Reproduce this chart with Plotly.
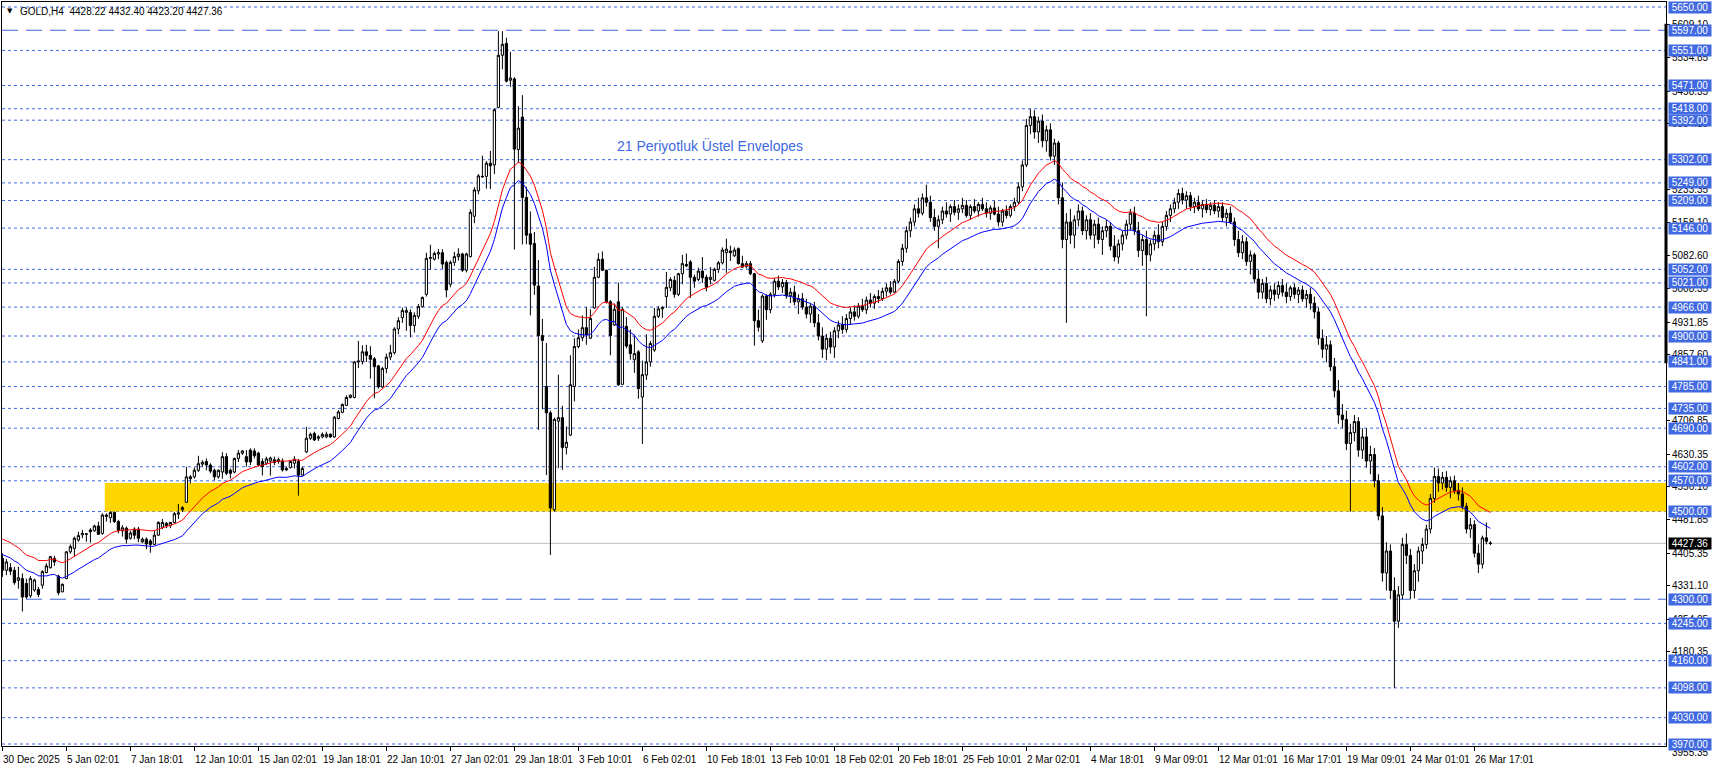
import plotly.graph_objects as go

# ---------------- data ----------------
open_ = [
    4393, 4366, 4372, 4366, 4343, 4347, 4336, 4308, 4321, 4322,
    4332, 4361, 4372, 4393, 4353, 4317, 4347, 4408, 4416, 4435,
    4447, 4448, 4458, 4456, 4467, 4450, 4492, 4486, 4498, 4477,
    4456, 4462, 4439, 4460, 4460, 4431, 4437, 4433, 4425, 4446,
    4464, 4473, 4468, 4475, 4494, 4504, 4521, 4579, 4579, 4594,
    4608, 4614, 4606, 4594, 4579, 4590, 4625, 4594, 4590, 4621,
    4633, 4625, 4640, 4638, 4633, 4614, 4610, 4615, 4618, 4618,
    4615, 4598, 4600, 4610, 4614, 4583, 4636, 4667, 4678, 4667,
    4670, 4670, 4676, 4670, 4712, 4726, 4742, 4760, 4760, 4841,
    4842, 4864, 4856, 4848, 4832, 4784, 4826, 4852, 4862, 4916,
    4942, 4954, 4954, 4924, 4945, 4967, 4995, 5077, 5075, 5087,
    5090, 5068, 5018, 5068, 5081, 5087, 5050, 5081, 5173, 5231,
    5264, 5264, 5294, 5290, 5421, 5540, 5567, 5483, 5486, 5325,
    5399, 5216, 5133, 5111, 5014, 4901, 4785, 4725, 4504, 4706,
    4714, 4646, 4674, 4785, 4876, 4896, 4919, 4895, 4964, 5034,
    5075, 5050, 4978, 4925, 4978, 4790, 4922, 4880, 4846, 4864,
    4761, 4811, 4841, 4868, 4945, 4962, 4990, 5010, 5027, 4995,
    5042, 5063, 5069, 5034, 5029, 5048, 5034, 5029, 5027, 5052,
    5067, 5090, 5094, 5083, 5099, 5065, 5059, 5065, 5042, 4935,
    4889, 4991, 4960, 4995, 5025, 5012, 5022, 4992, 5000, 4978,
    4985, 4966, 4950, 4968, 4930, 4900, 4870, 4895, 4875, 4912,
    4925, 4915, 4940, 4955, 4945, 4968, 4960, 4982, 4975, 4990,
    4985, 5002, 5010, 5000, 5025, 5070, 5100, 5140, 5160, 5190,
    5180, 5215, 5205, 5170, 5150, 5165, 5185, 5178, 5195, 5182,
    5190, 5198, 5175, 5195, 5185, 5200, 5190, 5180, 5192, 5178,
    5160, 5185, 5175, 5195, 5205, 5240, 5290, 5380, 5400, 5365,
    5390, 5345, 5370, 5310, 5340, 5215, 5120, 5160, 5130, 5165,
    5185, 5140, 5165, 5130, 5155, 5120, 5140, 5150, 5105, 5080,
    5110, 5130, 5155, 5180, 5140, 5095, 5120, 5085, 5110, 5130,
    5115, 5150, 5175, 5190, 5205, 5225, 5210, 5220, 5195, 5205,
    5190, 5200, 5188, 5198, 5185, 5195, 5170, 5180, 5160, 5120,
    5090, 5115, 5070, 5085, 5030, 5000, 5020, 4985, 5005, 4995,
    5015, 5000, 4990, 5010, 4995, 5005, 4985, 4995, 4975, 4955,
    4895, 4870, 4880, 4830, 4775, 4720, 4710, 4655, 4680, 4705,
    4640, 4670, 4615, 4630, 4570, 4490, 4360, 4410, 4320, 4250,
    4310, 4425, 4400, 4320, 4365, 4410, 4425, 4460, 4530, 4580,
    4565, 4578, 4555, 4570, 4548, 4540, 4512, 4460, 4470, 4405,
    4380, 4440, 4428.22,
]
high = [
    4405, 4392, 4382, 4374, 4374, 4359, 4347, 4353, 4347, 4328,
    4366, 4382, 4399, 4399, 4356, 4336, 4410, 4425, 4443, 4454,
    4458, 4450, 4462, 4470, 4477, 4496, 4496, 4500, 4500, 4481,
    4469, 4466, 4456, 4464, 4465, 4441, 4441, 4437, 4456, 4478,
    4483, 4476, 4476, 4499, 4517, 4512, 4602, 4583, 4600, 4627,
    4617, 4621, 4610, 4598, 4596, 4635, 4633, 4598, 4623, 4640,
    4640, 4640, 4644, 4644, 4636, 4621, 4625, 4625, 4625, 4623,
    4621, 4602, 4617, 4626, 4620, 4602, 4693, 4680, 4682, 4674,
    4680, 4682, 4678, 4718, 4731, 4746, 4765, 4767, 4843, 4889,
    4879, 4880, 4877, 4852, 4834, 4830, 4860, 4880, 4920, 4943,
    4965, 4965, 4961, 4954, 4973, 4990, 5090, 5108, 5093, 5098,
    5098, 5072, 5072, 5092, 5100, 5090, 5090, 5189, 5239, 5269,
    5311, 5299, 5322, 5419, 5595, 5595, 5580, 5548, 5490, 5424,
    5449, 5240, 5184, 5137, 5073, 4939, 4884, 4730, 4714, 4812,
    4741, 4694, 4856, 4895, 4915, 4947, 4966, 4961, 5058, 5089,
    5093, 5051, 4982, 4974, 5022, 4966, 4943, 4915, 4903, 4868,
    4844, 4904, 4889, 4964, 4968, 4968, 5046, 5034, 5037, 5044,
    5085, 5088, 5073, 5040, 5056, 5080, 5040, 5057, 5056, 5071,
    5102, 5122, 5106, 5102, 5102, 5083, 5071, 5071, 5044, 4960,
    4995, 4995, 5000, 5032, 5038, 5030, 5028, 5010, 5015, 4995,
    4998, 4985, 4975, 4978, 4950, 4920, 4905, 4910, 4920, 4935,
    4945, 4950, 4965, 4970, 4975, 4985, 4990, 4998, 4995, 5005,
    5010, 5020, 5025, 5030, 5075, 5110, 5150, 5170, 5200, 5215,
    5225, 5245, 5220, 5190, 5175, 5195, 5205, 5200, 5210, 5200,
    5215, 5210, 5200, 5212, 5205, 5215, 5205, 5198, 5208, 5195,
    5190, 5198, 5200, 5215, 5250, 5300, 5395, 5418, 5415, 5400,
    5405, 5380, 5385, 5350, 5345, 5250, 5180, 5190, 5175, 5200,
    5195, 5175, 5180, 5165, 5170, 5150, 5165, 5160, 5130, 5120,
    5140, 5165, 5190, 5195, 5160, 5130, 5140, 5120, 5140, 5155,
    5160, 5185, 5200, 5215, 5235, 5238, 5230, 5228, 5215, 5220,
    5210, 5212, 5205, 5210, 5205, 5205, 5190, 5195, 5170, 5140,
    5130, 5125, 5095, 5090, 5050, 5030, 5035, 5015, 5020, 5025,
    5030, 5020, 5015, 5020, 5012, 5015, 5005, 5010, 4990, 4965,
    4915, 4900, 4890, 4850, 4800, 4745, 4730, 4700, 4720, 4715,
    4690, 4690, 4650, 4645, 4585, 4510, 4430, 4425, 4350, 4330,
    4440, 4450, 4415, 4380, 4420, 4440, 4470, 4540, 4600, 4598,
    4590, 4592, 4580, 4582, 4565, 4555, 4520, 4485, 4480, 4425,
    4445, 4475, 4432.40,
]
low = [
    4351, 4355, 4355, 4333, 4324, 4272, 4301, 4303, 4317, 4305,
    4324, 4359, 4370, 4376, 4309, 4316, 4346, 4404, 4397, 4431,
    4439, 4431, 4429, 4454, 4447, 4447, 4477, 4474, 4474, 4450,
    4443, 4427, 4436, 4437, 4430, 4428, 4414, 4406, 4424, 4445,
    4460, 4462, 4462, 4473, 4483, 4499, 4520, 4564, 4575, 4590,
    4602, 4594, 4587, 4571, 4575, 4575, 4583, 4575, 4587, 4613,
    4629, 4602, 4606, 4621, 4602, 4582, 4606, 4582, 4606, 4609,
    4591, 4592, 4598, 4598, 4536, 4582, 4633, 4663, 4661, 4661,
    4667, 4667, 4668, 4668, 4710, 4724, 4741, 4758, 4758, 4827,
    4835, 4841, 4803, 4758, 4780, 4782, 4815, 4845, 4858, 4904,
    4930, 4912, 4897, 4908, 4939, 4965, 4990, 5051, 5072, 5075,
    5053, 4988, 5011, 5060, 5072, 5046, 5045, 5079, 5157, 5223,
    5261, 5236, 5235, 5269, 5419, 5508, 5478, 5468, 5097, 5295,
    5109, 5109, 4947, 4994, 4686, 4733, 4583, 4401, 4500, 4599,
    4595, 4630, 4672, 4751, 4872, 4888, 4880, 4893, 4962, 5032,
    5048, 4974, 4856, 4923, 4786, 4789, 4872, 4846, 4816, 4757,
    4654, 4800, 4830, 4864, 4941, 4941, 4964, 5002, 4987, 4991,
    5018, 5057, 4987, 5010, 5025, 5021, 5002, 5018, 5024, 5044,
    5063, 5044, 5071, 5080, 5063, 5056, 5054, 5039, 4878, 4910,
    4884, 4937, 4952, 4988, 5005, 4998, 4985, 4975, 4970, 4950,
    4960, 4940, 4930, 4920, 4890, 4850, 4845, 4860, 4850, 4895,
    4905, 4908, 4925, 4935, 4940, 4955, 4950, 4965, 4962, 4975,
    4980, 4990, 4995, 4998, 5020, 5060, 5090, 5125, 5150, 5170,
    5175, 5195, 5160, 5140, 5100, 5155, 5170, 5160, 5175, 5165,
    5180, 5170, 5165, 5180, 5172, 5185, 5170, 5165, 5175, 5150,
    5150, 5168, 5170, 5185, 5200, 5230, 5285, 5360, 5350, 5340,
    5330, 5320, 5300, 5290, 5200, 5100, 4930, 5110, 5100, 5150,
    5130, 5120, 5120, 5100, 5110, 5085, 5125, 5095, 5070, 5065,
    5095, 5120, 5140, 5130, 5080, 5060, 4945, 5070, 5095, 5100,
    5105, 5140, 5160, 5180, 5190, 5200, 5190, 5185, 5180, 5185,
    5170, 5180, 5175, 5178, 5170, 5160, 5150, 5155, 5105, 5080,
    5075, 5060, 5040, 5020, 4985, 4985, 4975, 4970, 4980, 4985,
    4990, 4975, 4980, 4985, 4975, 4978, 4965, 4960, 4940, 4880,
    4850, 4840, 4820, 4760, 4700, 4690, 4640, 4500, 4660, 4625,
    4620, 4600, 4585, 4555, 4480, 4340, 4320, 4300, 4098, 4235,
    4300, 4380, 4300, 4302, 4340, 4380, 4415, 4450, 4520, 4545,
    4550, 4545, 4530, 4540, 4525, 4505, 4450, 4440, 4395, 4360,
    4370, 4425, 4423.20,
]
close = [
    4366, 4385, 4364, 4338, 4349, 4305, 4305, 4347, 4344, 4311,
    4363, 4376, 4397, 4385, 4315, 4334, 4408, 4420, 4439, 4445,
    4450, 4449, 4454, 4467, 4448, 4492, 4489, 4498, 4477, 4456,
    4463, 4437, 4451, 4446, 4439, 4437, 4426, 4425, 4446, 4475,
    4475, 4468, 4475, 4495, 4497, 4509, 4579, 4575, 4594, 4609,
    4612, 4606, 4592, 4579, 4594, 4625, 4587, 4587, 4621, 4633,
    4638, 4613, 4613, 4627, 4606, 4602, 4620, 4622, 4612, 4614,
    4595, 4595, 4614, 4619, 4583, 4598, 4667, 4676, 4663, 4670,
    4676, 4676, 4670, 4715, 4727, 4744, 4760, 4765, 4841, 4843,
    4864, 4856, 4847, 4830, 4784, 4826, 4852, 4862, 4916, 4935,
    4958, 4958, 4924, 4947, 4967, 4988, 5077, 5079, 5088, 5090,
    5064, 5005, 5068, 5081, 5087, 5050, 5087, 5182, 5233, 5265,
    5263, 5294, 5288, 5416, 5540, 5565, 5481, 5488, 5326, 5374,
    5216, 5130, 5109, 5016, 4901, 4890, 4725, 4508, 4710, 4714,
    4646, 4658, 4789, 4876, 4896, 4919, 4903, 4940, 5034, 5075,
    5050, 4978, 4901, 4961, 4789, 4961, 4877, 4860, 4860, 4780,
    4812, 4841, 4883, 4945, 4962, 4965, 5011, 5029, 4995, 5042,
    5065, 5060, 5034, 5025, 5048, 5033, 5011, 5034, 5052, 5067,
    5096, 5098, 5090, 5096, 5065, 5057, 5065, 5042, 4935, 4920,
    4991, 4960, 4995, 5025, 5012, 5022, 4992, 5000, 4978, 4985,
    4966, 4950, 4968, 4930, 4900, 4870, 4895, 4875, 4912, 4925,
    4915, 4940, 4955, 4945, 4968, 4960, 4982, 4975, 4990, 4985,
    5002, 5010, 5000, 5025, 5070, 5100, 5140, 5160, 5190, 5180,
    5215, 5205, 5170, 5150, 5165, 5185, 5178, 5195, 5182, 5190,
    5198, 5175, 5195, 5185, 5200, 5190, 5180, 5192, 5178, 5160,
    5185, 5175, 5195, 5205, 5240, 5290, 5380, 5400, 5365, 5390,
    5345, 5370, 5310, 5340, 5215, 5120, 5160, 5130, 5165, 5185,
    5140, 5165, 5130, 5155, 5120, 5140, 5150, 5105, 5080, 5110,
    5130, 5155, 5180, 5140, 5095, 5120, 5085, 5110, 5130, 5115,
    5150, 5175, 5190, 5205, 5225, 5210, 5220, 5195, 5205, 5190,
    5200, 5188, 5198, 5185, 5195, 5170, 5180, 5160, 5120, 5090,
    5115, 5070, 5085, 5030, 5000, 5020, 4985, 5005, 4995, 5015,
    5000, 4990, 5010, 4995, 5005, 4985, 4995, 4975, 4955, 4895,
    4870, 4880, 4830, 4775, 4720, 4710, 4655, 4680, 4705, 4640,
    4670, 4615, 4630, 4570, 4490, 4360, 4410, 4320, 4250, 4310,
    4425, 4400, 4320, 4365, 4410, 4425, 4460, 4530, 4580, 4565,
    4578, 4555, 4570, 4548, 4540, 4512, 4460, 4470, 4405, 4380,
    4440, 4432, 4427.36,
]

x_labels = ["30 Dec 2025", "5 Jan 02:01", "7 Jan 18:01", "12 Jan 10:01", "15 Jan 02:01",
            "19 Jan 18:01", "22 Jan 10:01", "27 Jan 02:01", "29 Jan 18:01", "3 Feb 10:01",
            "6 Feb 02:01", "10 Feb 18:01", "13 Feb 10:01", "18 Feb 02:01", "20 Feb 18:01",
            "25 Feb 10:01", "2 Mar 02:01", "4 Mar 18:01", "9 Mar 09:01", "12 Mar 01:01",
            "16 Mar 17:01", "19 Mar 09:01", "24 Mar 01:01", "26 Mar 17:01"]
x_label_step = 16

levels = [5650, 5597, 5551, 5471, 5418, 5392, 5302, 5249, 5209, 5146, 5052, 5021, 4966,
          4900, 4841, 4785, 4735, 4690, 4602, 4570, 4500, 4300, 4245, 4160, 4098, 4030, 3970]
long_dash_levels = [5597, 4300]
scale_labels = [5609.10, 5534.85, 5458.35, 5384.10, 5233.35, 5158.10, 5082.60,
                5008.35, 4931.85, 4857.60, 4706.85, 4630.35, 4556.10, 4481.85,
                4405.35, 4331.10, 4254.85, 4180.35]
scale_bottom_label = 3955.35
zone_low, zone_high = 4500, 4565
zone_start_bar = 26
last_price = 4427.36
ema_period = 21
env_dev_pct = 0.4
ema_seed = 4425
header = "GOLD,H4  4428.22 4432.40 4423.20 4427.36"
note_text = "21 Periyotluk Üstel Envelopes"

# ---------------- indicator: 21 EMA envelopes ----------------
k = 2.0 / (ema_period + 1)
ema = []
prev = ema_seed
for c in close:
    prev = prev + k * (c - prev)
    ema.append(prev)
upper = [e * (1 + env_dev_pct / 100) for e in ema]
lower = [e * (1 - env_dev_pct / 100) for e in ema]

n = len(close)
xs = list(range(n))

BLUE = "#4169E1"
FONT = "Liberation Sans"
Y_RANGE = [3965.5, 5661.4]
X_RANGE = [-0.1, 415.9]

fig = go.Figure()
fig.add_trace(go.Candlestick(
    x=xs, open=open_, high=high, low=low, close=close,
    increasing=dict(fillcolor="white", line=dict(color="black", width=1)),
    decreasing=dict(fillcolor="black", line=dict(color="black", width=1)),
    whiskerwidth=0, hoverinfo="skip", showlegend=False))
fig.add_trace(go.Scatter(x=xs, y=upper, mode="lines", line=dict(color="#FF0000", width=1),
                         hoverinfo="skip", showlegend=False))
fig.add_trace(go.Scatter(x=xs, y=lower, mode="lines", line=dict(color="#0000FF", width=1),
                         hoverinfo="skip", showlegend=False))

shapes = []
shapes.append(dict(type="rect", xref="x", yref="y", x0=zone_start_bar - 0.4, x1=X_RANGE[1],
                   y0=zone_low, y1=zone_high, fillcolor="#FFD700", line=dict(width=0), layer="below"))
for lv in levels:
    dash = "16px,8px" if lv in long_dash_levels else "3px,3px"
    shapes.append(dict(type="line", xref="paper", yref="y", x0=0, x1=1, y0=lv, y1=lv,
                       line=dict(color=BLUE, width=1, dash=dash), layer="below"))
shapes.append(dict(type="line", xref="paper", yref="y", x0=0, x1=1, y0=last_price, y1=last_price,
                   line=dict(color="#C0C0C0", width=1), layer="below"))
shapes.append(dict(type="line", xref="paper", yref="y", x0=1, x1=1, y0=4838, y1=5612,
                   line=dict(color="black", width=3), layer="above"))

ann = []
for j, lab in enumerate(x_labels):
    ann.append(dict(x=j * x_label_step, y=0, xref="x", yref="paper", text=lab,
                    showarrow=False, xanchor="left", yanchor="top", yshift=-6, xshift=-1,
                    font=dict(family=FONT, size=10, color="black")))
for v in scale_labels:
    ann.append(dict(x=1, y=v, xref="paper", yref="y", text=f"{v:.2f}", showarrow=False,
                    xanchor="left", yanchor="middle", xshift=4,
                    font=dict(family=FONT, size=10, color="black")))
ann.append(dict(x=1, y=0, xref="paper", yref="paper", text=f"{scale_bottom_label:.2f}",
                showarrow=False, xanchor="left", yanchor="middle", xshift=4, yshift=-6,
                font=dict(family=FONT, size=10, color="black")))
for lv in levels:
    ann.append(dict(x=1, y=lv, xref="paper", yref="y", text=f"{lv:.2f}", showarrow=False,
                    xanchor="left", yanchor="middle", xshift=2, bgcolor=BLUE, borderpad=0,
                    width=42, height=11, font=dict(family=FONT, size=10, color="white")))
ann.append(dict(x=1, y=last_price, xref="paper", yref="y", text=f"{last_price:.2f}",
                showarrow=False, xanchor="left", yanchor="middle", xshift=2, bgcolor="black",
                borderpad=0, width=42, height=11, font=dict(family=FONT, size=10, color="white")))
ann.append(dict(x=0, y=1, xref="paper", yref="paper", text="▼", showarrow=False,
                xanchor="left", yanchor="middle", xshift=3, yshift=-9,
                font=dict(family="DejaVu Sans", size=7, color="black")))
ann.append(dict(x=0, y=1, xref="paper", yref="paper", text=header, showarrow=False,
                xanchor="left", yanchor="middle", xshift=16, yshift=-9,
                font=dict(family=FONT, size=10, color="black")))
ann.append(dict(x=177, y=5335, xref="x", yref="y", text=note_text, showarrow=False,
                xanchor="center", yanchor="middle",
                font=dict(family=FONT, size=14, color=BLUE)))

fig.update_layout(
    width=1712, height=776,
    margin=dict(l=2, r=46, t=2, b=30),
    paper_bgcolor="white", plot_bgcolor="white",
    shapes=shapes, annotations=ann, boxgap=0.2,
    xaxis=dict(range=X_RANGE, showgrid=False, zeroline=False, showline=True, linecolor="black",
               linewidth=1, mirror=True, ticks="outside", ticklen=4, tickcolor="black",
               tickvals=[j * x_label_step for j in range(len(x_labels))],
               showticklabels=False, rangeslider=dict(visible=False), fixedrange=True),
    yaxis=dict(range=Y_RANGE, side="right", showgrid=False, zeroline=False, showline=True,
               linecolor="black", linewidth=1, mirror=True, ticks="outside", ticklen=3,
               tickcolor="black", tickvals=scale_labels + [scale_bottom_label],
               showticklabels=False, fixedrange=True),
    showlegend=False,
)

fig.write_html("out.html", config={"displayModeBar": False},
               post_script="document.body.style.margin='0';document.body.style.overflow='hidden';")
